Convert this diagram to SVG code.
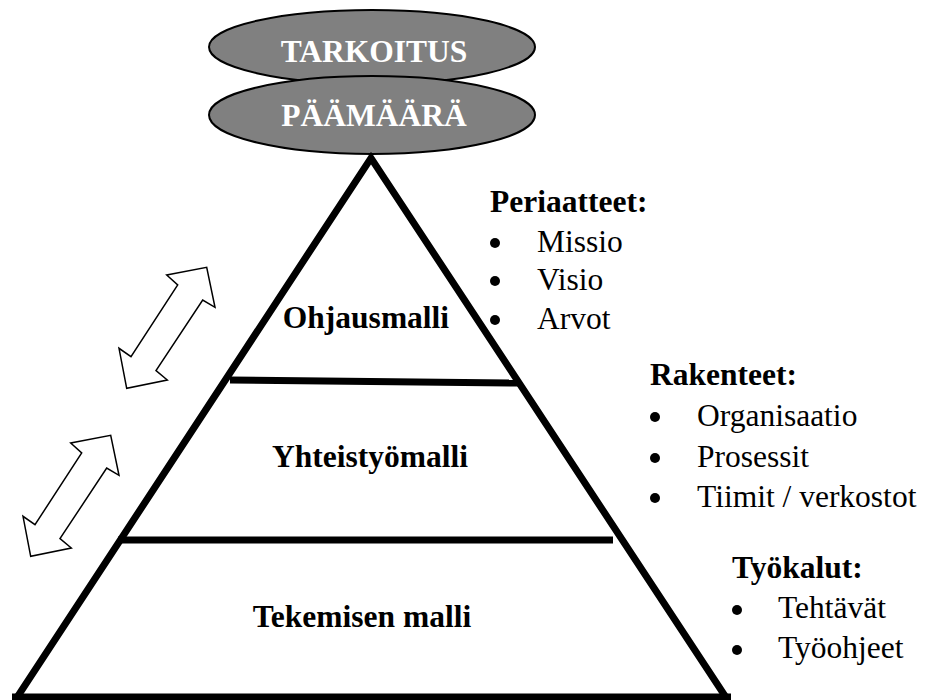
<svg xmlns="http://www.w3.org/2000/svg" xmlns:xlink="http://www.w3.org/1999/xlink" width="926" height="700" viewBox="0 0 926 700">
  <style>
    text { font-family: 'Liberation Serif', 'Times New Roman', Times, 'DejaVu Serif', serif; font-size: 31.5px; }
    .oval { fill: #808080; stroke: #000; stroke-width: 2; }
    .oval-text { font-weight: bold; fill: #fff; text-anchor: middle; }
    .layer-text { font-weight: bold; fill: #000; text-anchor: middle; }
    .head { font-weight: bold; fill: #000; }
    .item { fill: #000; }
    .bullet { fill: #000; }
    .edge { fill: none; stroke: #000; stroke-width: 7; }
    .dbl { fill: #fff; stroke: #000; stroke-width: 1.5; stroke-linejoin: miter; }
  </style>
  <defs>
    <!-- outlined two-headed arrow, drawn along the left slope -->
    <polygon id="double-arrow" class="dbl" points="206.7,267.3 215,307.3 202.7,300 156,370.7 167.3,380 126.7,388.3 119,348.3 131,356.7 177.7,285 166.7,275"/>
  </defs>

  <rect width="926" height="700" fill="#fff"/>

  <!-- purpose ovals on top of the pyramid -->
  <g id="tarkoitus">
    <ellipse class="oval" cx="372" cy="47" rx="163" ry="37"/>
    <text class="oval-text" x="374" y="62">TARKOITUS</text>
  </g>
  <g id="paamaara">
    <ellipse class="oval" cx="372" cy="115" rx="163" ry="39"/>
    <text class="oval-text" x="374" y="126">PÄÄMÄÄRÄ</text>
  </g>

  <!-- pyramid outline and layer dividers -->
  <g id="pyramid">
    <polyline class="edge" points="16,699 371,158 727,699"/>
    <line class="edge" x1="12" y1="697" x2="731" y2="697"/>
  </g>
  <g id="ohjausmalli">
    <line class="edge" x1="230" y1="380" x2="518" y2="383"/>
    <text class="layer-text" x="366" y="328">Ohjausmalli</text>
  </g>
  <g id="yhteistyomalli">
    <line class="edge" x1="118" y1="540" x2="613" y2="540"/>
    <text class="layer-text" x="370" y="467">Yhteistyömalli</text>
  </g>
  <g id="tekemisen-malli">
    <text class="layer-text" x="362" y="627">Tekemisen malli</text>
  </g>

  <!-- two-way arrows between layers -->
  <g id="connectors">
    <use xlink:href="#double-arrow"/>
    <use xlink:href="#double-arrow" transform="translate(-96,168)"/>
  </g>

  <!-- side lists -->
  <g id="periaatteet">
    <text class="head" x="490" y="212">Periaatteet:</text>
    <circle class="bullet" cx="495" cy="243" r="5"/>
    <text class="item" x="537" y="252">Missio</text>
    <circle class="bullet" cx="495" cy="281" r="5"/>
    <text class="item" x="537" y="290">Visio</text>
    <circle class="bullet" cx="495" cy="320" r="5"/>
    <text class="item" x="537" y="329">Arvot</text>
  </g>
  <g id="rakenteet">
    <text class="head" x="650" y="385">Rakenteet:</text>
    <circle class="bullet" cx="655" cy="417" r="5"/>
    <text class="item" x="697" y="426">Organisaatio</text>
    <circle class="bullet" cx="655" cy="458" r="5"/>
    <text class="item" x="697" y="467">Prosessit</text>
    <circle class="bullet" cx="655" cy="498" r="5"/>
    <text class="item" x="697" y="507">Tiimit / verkostot</text>
  </g>
  <g id="tyokalut">
    <text class="head" x="732" y="578">Työkalut:</text>
    <circle class="bullet" cx="737" cy="610" r="5"/>
    <text class="item" x="778" y="618">Tehtävät</text>
    <circle class="bullet" cx="737" cy="650" r="5"/>
    <text class="item" x="778" y="658">Työohjeet</text>
  </g>
</svg>
